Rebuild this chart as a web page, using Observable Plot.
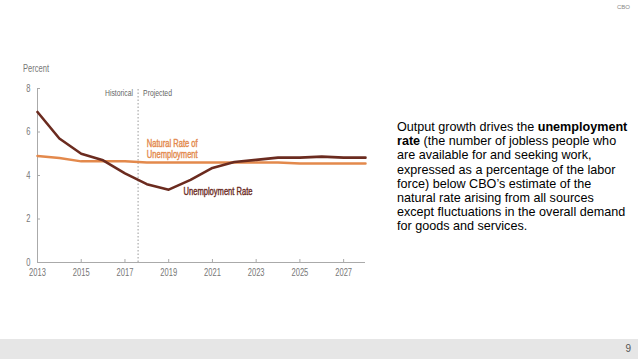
<!DOCTYPE html>
<html>
<head>
<meta charset="utf-8">
<script src="https://cdn.jsdelivr.net/npm/d3@7"></script>
<script src="https://cdn.jsdelivr.net/npm/@observablehq/plot@0.6"></script>
<style>
  html, body { margin: 0; padding: 0; background: #fff; }
  body { width: 638px; height: 359px; position: relative; overflow: hidden; font-family: "Liberation Sans", Arial, sans-serif; }
  #chart { position: absolute; left: 0; top: 0; }
  .percent { position: absolute; left: 23px; top: 62px; font-size: 10.5px; color: #777; transform: scaleX(0.72); transform-origin: left top; }
  .cbo { position: absolute; right: 8px; top: 4px; font-size: 6px; color: #888; }
  .bar { position: absolute; left: 0; top: 339px; width: 638px; height: 20px; background: #e6e6e6; }
  .pnum { position: absolute; right: 7px; top: 343px; font-size: 10px; color: #555; }
  .txt { position: absolute; left: 397px; top: 120px; font-size: 12.6px; line-height: 14.2px; color: #000; white-space: nowrap; }
</style>
</head>
<body>
<div id="chart"></div>
<div class="percent">Percent</div>
<div class="cbo">CBO</div>
<div class="txt">Output growth drives the <b>unemployment</b><br><b>rate</b> (the number of jobless people who<br>are available for and seeking work,<br>expressed as a percentage of the labor<br>force) below CBO’s estimate of the<br>natural rate arising from all sources<br>except fluctuations in the overall demand<br>for goods and services.</div>
<div class="bar"></div>
<div class="pnum">9</div>
<script>
const years = [2013,2014,2015,2016,2017,2018,2019,2020,2021,2022,2023,2024,2025,2026,2027,2028];
const unemploymentRate = [6.92,5.7,5.0,4.7,4.1,3.6,3.35,3.8,4.35,4.62,4.72,4.82,4.82,4.87,4.82,4.82];
const naturalRate = [4.9,4.8,4.65,4.65,4.65,4.6,4.6,4.6,4.6,4.6,4.6,4.6,4.55,4.55,4.55,4.55];
const xTicks = [2013,2015,2017,2019,2021,2023,2025,2027];
const yTicks = [0,2,4,6,8];
const projectionStart = 2017.6;

const ur = years.map((y,i) => ({year: y, value: unemploymentRate[i]}));
const nr = years.map((y,i) => ({year: y, value: naturalRate[i]}));

const brown = "#6b2b1f";
const orange = "#e3894c";

const chart = Plot.plot({
  width: 380,
  height: 300,
  marginTop: 88,
  marginBottom: 38,
  marginLeft: 37,
  marginRight: 15,
  style: {fontFamily: '"Liberation Sans", Arial, sans-serif', fontSize: "10.5px", color: "#777", background: "transparent"},
  x: {domain: [2013, 2028]},
  y: {domain: [0, 8]},
  marks: [
    Plot.ruleY([0], {x1: 2013, x2: 2028, stroke: "#aaa"}),
    Plot.ruleX([2013], {y1: 0, y2: 8, stroke: "#aaa"}),
    Plot.axisX({ticks: xTicks, tickFormat: d => String(d), tickSize: -3, tickPadding: 9, stroke: "#aaa", label: null}),
    Plot.axisY({ticks: yTicks, tickSize: -3, tickPadding: 10, stroke: "#aaa", label: null}),
    Plot.ruleX([projectionStart], {y1: 0, y2: 8, stroke: "#999", strokeDasharray: "1.5,2"}),
    Plot.text(["Historical"], {x: projectionStart, y: 7.78, dx: -5, textAnchor: "end", fill: "#666", fontSize: 9.5}),
    Plot.text(["Projected"], {x: projectionStart, y: 7.78, dx: 5, textAnchor: "start", fill: "#666", fontSize: 9.5}),
    Plot.line(nr, {x: "year", y: "value", stroke: orange, strokeWidth: 2.5}),
    Plot.line(ur, {x: "year", y: "value", stroke: brown, strokeWidth: 2.6}),
    Plot.text(["Natural Rate of", "Unemployment"], {x: 2018.0, y: (d, i) => 5.46 - i * 0.49, text: d => d, textAnchor: "start", fill: orange, stroke: orange, strokeWidth: 0.4, fontSize: 10.5}),
    Plot.text(["Unemployment Rate"], {x: 2019.68, y: 3.24, textAnchor: "start", fill: brown, stroke: brown, strokeWidth: 0.4, fontSize: 10.5})
  ]
});
document.getElementById("chart").appendChild(chart);
// condensed look of the original chart typeface
chart.querySelectorAll("text").forEach(t => {
  const L = t.getComputedTextLength();
  if (L > 0) {
    t.setAttribute("textLength", (L * 0.72).toFixed(2));
    t.setAttribute("lengthAdjust", "spacingAndGlyphs");
  }
});
</script>
</body>
</html>
